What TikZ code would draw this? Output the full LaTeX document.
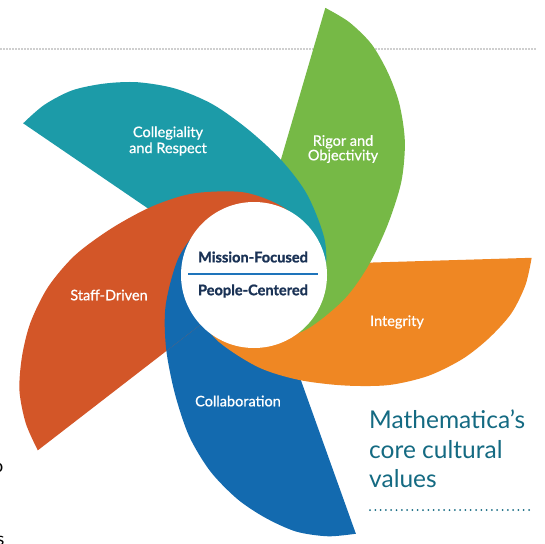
\documentclass[tikz,border=0pt]{standalone}
\usepackage{fontspec}
\setmainfont{Lato}
\definecolor{cteal}{HTML}{1C9BA8}
\definecolor{cgreen}{HTML}{76B946}
\definecolor{corange}{HTML}{EF8723}
\definecolor{cblue}{HTML}{136AAF}
\definecolor{cred}{HTML}{D35628}
\definecolor{cnavy}{HTML}{1A3255}
\definecolor{ctitle}{HTML}{146A82}
\definecolor{cline}{HTML}{1E74BB}
\newcommand\mypetal{plot[smooth] coordinates {(277,7) (270,-20) (255,-48) (232,-72) (205,-92) (170,-108) (130,-116) (85,-115) (40,-108) (0,-94) (-40,-66) (-62,-32) (-68,7)} -- cycle}
\tikzset{
  petallabel/.style={text=white, font=\fontsize{14.5}{16}\selectfont\addfontfeatures{FakeBold=0.8}, align=center, inner sep=0pt},
  centerlabel/.style={text=cnavy, font=\fontsize{14.6}{16}\selectfont\bfseries\addfontfeatures{FakeBold=1.2}, inner sep=0pt},
  titletext/.style={text=ctitle, font=\fontsize{24.5}{30}\selectfont, anchor=base west, inner sep=0pt},
  topdots/.style={draw=black!80, line width=1.4pt, line cap=round, dash pattern=on 0pt off 3pt},
  bottomdots/.style={draw=ctitle, line width=2pt, line cap=round, dash pattern=on 0pt off 5.3pt},
  strayglyph/.style={text=black, font=\fontsize{18}{20}\selectfont, inner sep=0pt}
}
\begin{document}
\begin{tikzpicture}[x=1pt,y=1pt]
\useasboundingbox (0,0) rectangle (545,-543);
\fill[white] (0,0) rectangle (545,-543);
% top dotted rule
\coordinate (tl) at (1,-49);
\coordinate (tr) at (536,-49);
\draw[topdots] (tl) -- (tr);
% petals
\fill[cblue,   shift={(255,-273)}, rotate=289.7, scale=1.009] \mypetal;
\fill[corange, shift={(255,-273)}, rotate=1.7,   scale=1.0]   \mypetal;
\fill[cgreen,  shift={(255,-273)}, rotate=73.7,  scale=0.99]  \mypetal;
\fill[cteal,   shift={(255,-273)}, rotate=145.7, scale=0.996] \mypetal;
\fill[cred,    shift={(255,-273)}, rotate=217.7, xscale=1.012, yscale=1.07] \mypetal;
\begin{scope}
  \clip[shift={(255,-273)}, rotate=217.7, xscale=1.012, yscale=1.07] \mypetal;
  \fill[cblue, shift={(255,-273)}, rotate=289.7, scale=1.009] \mypetal;
\end{scope}
% center disc
\node[circle, fill=white, minimum size=146pt, inner sep=0pt] (hub) at (254,-275) {};
\node[centerlabel] (mf) at (253,-257) {Mission-Focused};
\node[centerlabel] (pc) at (253,-291) {People-Centered};
\coordinate (sl) at (188,-274);
\coordinate (sr) at (318,-274);
\draw[cline, line width=1.1pt] (sl) -- (sr);
% petal labels
\node[petallabel] (coll) at (168,-141) {Collegiality\\and Respect};
\node[petallabel, font=\fontsize{14.5}{14.5}\selectfont\addfontfeatures{FakeBold=0.8}] (rig) at (343,-149) {Rigor and\\Objectivity};
\node[petallabel] (int) at (397,-322) {Integrity};
\node[petallabel] (colab) at (238,-401) {Collaboration};
\node[petallabel] (staff) at (109,-295) {Staff-Driven};
% title
\node[titletext] (t1) at (369,-428) {Mathematica’s};
\node[titletext] (t2) at (369,-458) {core cultural};
\node[titletext] (t3) at (369,-487) {values};
\coordinate (bl) at (370,-510);
\coordinate (br) at (534,-510);
\draw[bottomdots] (bl) -- (br);
% cut-off glyphs at the left edge
\node[strayglyph, anchor=base east] (g1) at (3.5,-472) {o};
\node[strayglyph, anchor=base east] (g2) at (4.5,-545) {s};
\end{tikzpicture}
\end{document}
